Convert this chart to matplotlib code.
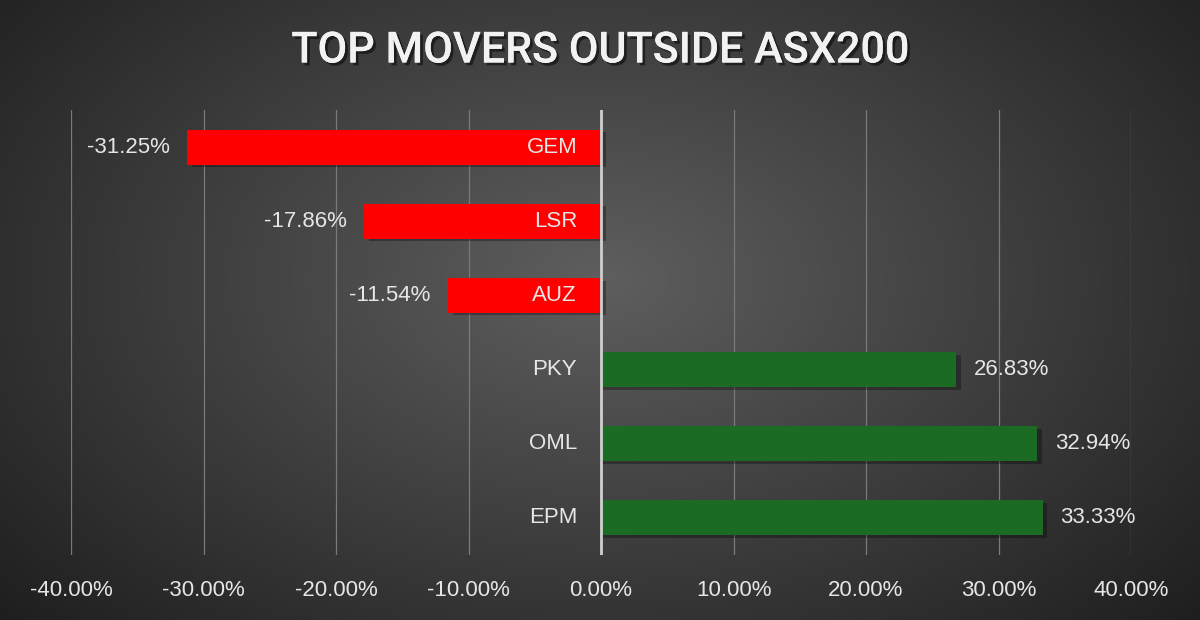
import numpy as np
import matplotlib
matplotlib.use("Agg")
import matplotlib.pyplot as plt
import matplotlib.patheffects as pe
from matplotlib.ticker import FuncFormatter

tickers = ["GEM", "LSR", "AUZ", "PKY", "OML", "EPM"]
changes = [-31.25, -17.86, -11.54, 26.83, 32.94, 33.33]
ticks = [-40, -30, -20, -10, 0, 10, 20, 30, 40]
title = "TOP MOVERS OUTSIDE ASX200"

W, H = 1200, 620
fig = plt.figure(figsize=(W / 100, H / 100), dpi=100)

# radial gradient background
bg = fig.add_axes([0, 0, 1, 1], zorder=-10)
yy, xx = np.mgrid[0:H, 0:W]
r = np.sqrt(((xx - W * 0.5) / (W * 0.62)) ** 2 + ((yy - H * 0.45) / (H * 0.75)) ** 2)
v = np.clip(0.37 - 0.23 * r, 0.12, 0.37)
img = np.dstack([v, v, v])
bg.imshow(img, aspect="auto", extent=[0, 1, 0, 1], interpolation="bilinear")
bg.axis("off")

font = "Liberation Sans"
txtc = "#e6e6e6"
fs = 16

ax = fig.add_axes([71 / W, 1 - 555 / H, 1060 / W, 445 / H])
ax.set_facecolor("none")
ax.set_xlim(-40, 40)
n = len(tickers)
ypos = np.arange(n)
ax.set_ylim(n - 0.5, -0.5)

colors = ["#ff0000" if c < 0 else "#1b6b24" for c in changes]
bh = 0.47
# shadows
for y, c in zip(ypos, changes):
    ax.barh(y + 0.035, c + (0.35 if c > 0 else 0), left=0 if c > 0 else 0.35,
            height=bh, color="black", alpha=0.3, zorder=2, linewidth=0)
ax.barh(ypos, changes, height=bh, color=colors, zorder=3, linewidth=0)

for y, c, t in zip(ypos, changes, tickers):
    ax.text(-1.8, y, t, ha="right", va="center", color=txtc, fontsize=fs,
            family=font, zorder=5)
    if c < 0:
        ax.text(c - 1.3, y, f"{c:.2f}%", ha="right", va="center", color=txtc,
                fontsize=fs, family=font, zorder=5)
    else:
        ax.text(c + 1.3, y, f"{c:.2f}%", ha="left", va="center", color=txtc,
                fontsize=fs, family=font, zorder=5)

ax.set_xticks(ticks)
ax.xaxis.set_major_formatter(FuncFormatter(lambda x, p: f"{x:.2f}%"))
ax.grid(axis="x", color="#7a7a7a", linewidth=0.9, zorder=0)
ax.axvline(0, color="#cfcfcf", linewidth=2, zorder=4)
ax.set_yticks([])
for s in ax.spines.values():
    s.set_visible(False)
ax.tick_params(axis="x", length=0, pad=18, colors=txtc, labelsize=fs)
for lab in ax.get_xticklabels():
    lab.set_family(font)

fig.text(0.5, 1 - 51 / H, title, ha="center", va="center", color="#f2f2f2",
         fontsize=31, fontweight="medium", family="Roboto",
         path_effects=[pe.withSimplePatchShadow(offset=(2, -2), shadow_rgbFace="black", alpha=0.5),
                       pe.Normal()])

fig.savefig("out.png", dpi=100)
